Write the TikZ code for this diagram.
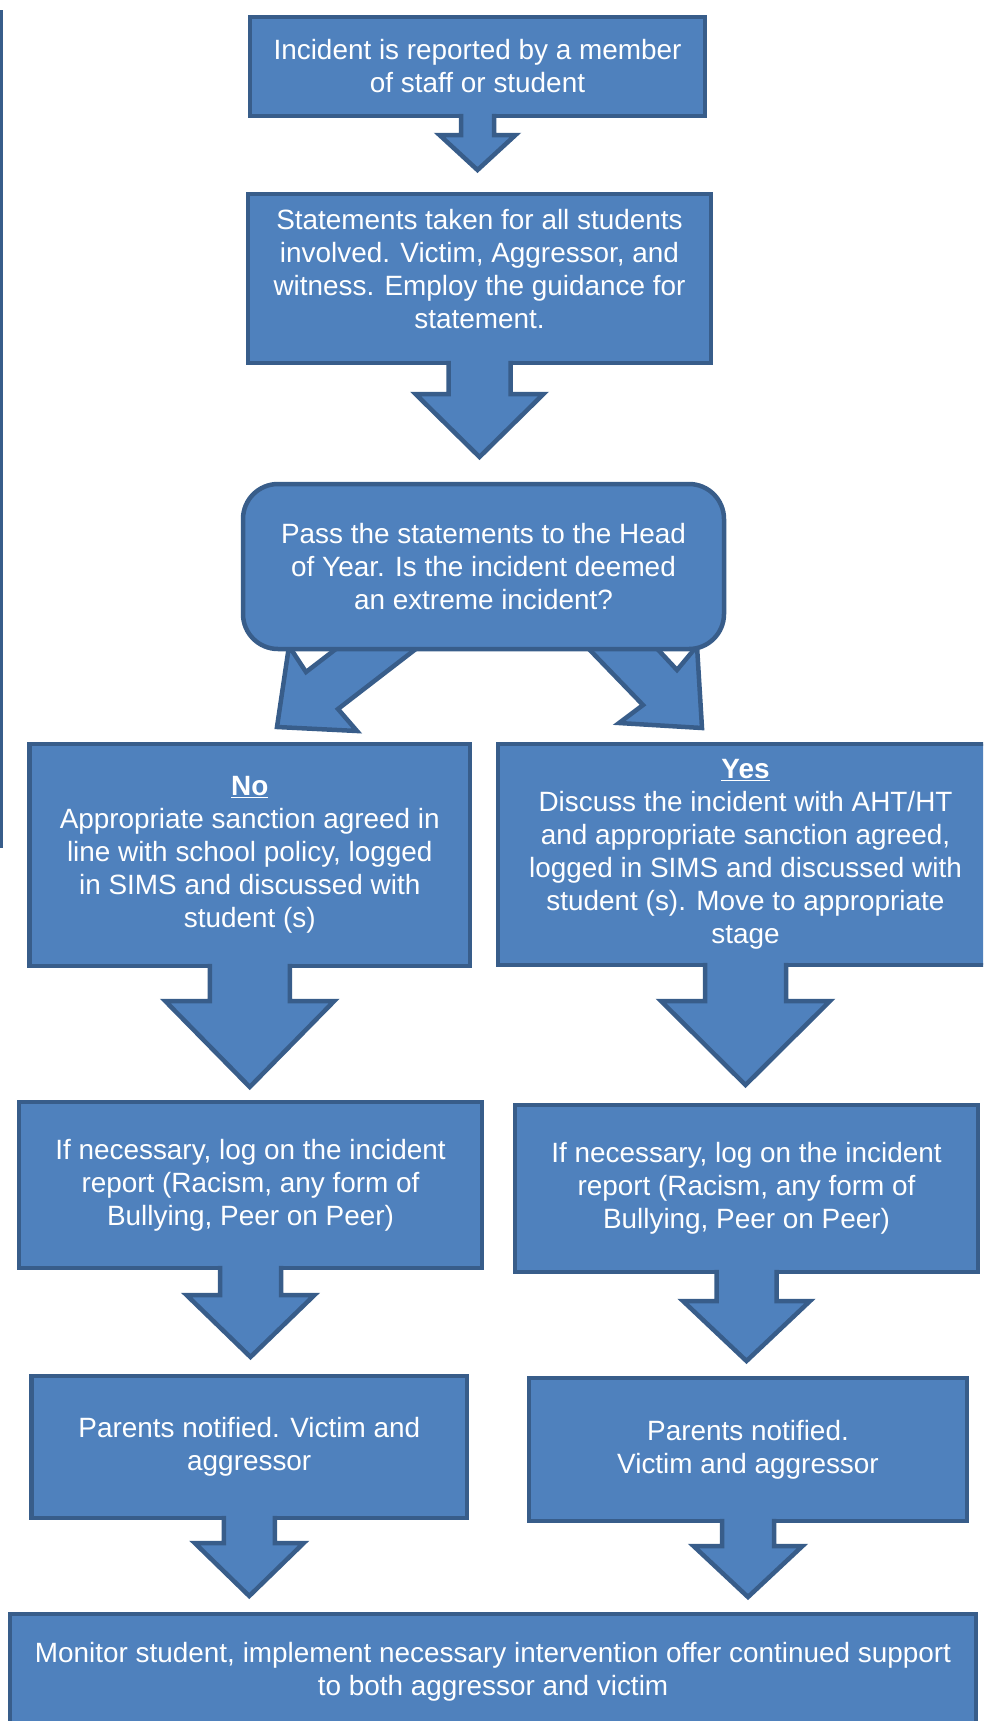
\documentclass[tikz,border=0pt]{standalone}
\usepackage{fontspec}
\setmainfont{Liberation Sans}
\usetikzlibrary{calc}
\definecolor{boxfill}{HTML}{4F81BD}
\definecolor{boxline}{HTML}{385D8A}
\newcommand{\blockarr}[5]{%
  \fill[boxfill] ($(#1.south)+(-#2,-2.5)$) -- ($(#1.south)+(-#2,#4)$) -- ($(#1.south)+(-#3,#4)$) -- ($(#1.south)+(0,#5)$) -- ($(#1.south)+(#3,#4)$) -- ($(#1.south)+(#2,#4)$) -- ($(#1.south)+(#2,-2.5)$) -- cycle;
  \draw[arrline] ($(#1.south)+(-#2,-2.2)$) -- ($(#1.south)+(-#2,#4)$) -- ($(#1.south)+(-#3,#4)$) -- ($(#1.south)+(0,#5)$) -- ($(#1.south)+(#3,#4)$) -- ($(#1.south)+(#2,#4)$) -- ($(#1.south)+(#2,-2.2)$);
}
\begin{document}
\begin{tikzpicture}[x=1pt,y=-1pt,
  box/.style={draw=boxline, fill=boxfill, line width=4.5pt, text=white, align=center,
    inner sep=0pt, outer sep=0pt, font=\fontsize{27.9}{33}\selectfont},
  arrline/.style={draw=boxline, line width=4.5pt, line join=miter},
  bent/.style={fill=boxfill, draw=boxline, line width=4.5pt, line join=miter}]
\useasboundingbox (0,0) rectangle (983,1721);
\clip (0,0) rectangle (983,1721);

% left margin line
\draw[boxline, line width=3pt] (1.5,10) -- (1.5,848);

% boxes
\node[box, minimum width=455pt, minimum height=99pt] (b1) at (477.5,66.5)
  {Incident is reported by a member\\of staff or student};
\node[box, minimum width=463pt, minimum height=169pt,
  label={[text=white, align=center, font=\fontsize{27.9}{33}\selectfont, yshift=9pt]center:{Statements taken for all students\\involved. Victim, Aggressor, and\\witness. Employ the guidance for\\statement.}}] (b2) at (479.5,278.5) {};

% bent arrows (behind the decision box)
\draw[bent] (277,727) -- (289,646) -- (306,672) -- (345,642) -- (421,645) -- (338,709) -- (357,731) -- cycle;
\draw[bent] (702,728) -- (697,646) -- (677,670) -- (650,641) -- (585,645) -- (643,705) -- (619,723) -- cycle;

\node[box, rounded corners=35pt, minimum width=481pt, minimum height=165pt] (b3) at (483.5,566.5)
  {Pass the statements to the Head\\of Year. Is the incident deemed\\an extreme incident?};

\node[box, minimum width=440.5pt, minimum height=222pt] (no) at (249.75,855)
  {\underline{\textbf{No}}\\Appropriate sanction agreed in\\line with school policy, logged\\in SIMS and discussed with\\student (s)};
\node[box, minimum width=495pt, minimum height=221pt] (yes) at (745.5,854.5)
  {\underline{\textbf{Yes}}\\Discuss the incident with AHT/HT\\and appropriate sanction agreed,\\logged in SIMS and discussed with\\student (s). Move to appropriate\\stage};

\node[box, minimum width=463pt, minimum height=166pt] (l3) at (250.5,1185)
  {If necessary, log on the incident\\report (Racism, any form of\\Bullying, Peer on Peer)};
\node[box, minimum width=463pt, minimum height=167pt] (r3) at (746.5,1188.5)
  {If necessary, log on the incident\\report (Racism, any form of\\Bullying, Peer on Peer)};

\node[box, minimum width=435.5pt, minimum height=142pt] (l4) at (249.25,1447)
  {Parents notified. Victim and\\aggressor};
\node[box, minimum width=438pt, minimum height=143pt] (r4) at (748,1449.5)
  {Parents notified.\\Victim and aggressor};

\node[box, minimum width=966pt, minimum height=116pt] (l5) at (493,1672)
  {Monitor student, implement necessary intervention offer continued support\\to both aggressor and victim};

% block arrows
\blockarr{b1}{16.5}{38}{19}{54}
\blockarr{b2}{31}{64}{31}{94}
\blockarr{no}{40}{84.5}{35}{121}
\blockarr{yes}{40.5}{84.5}{36}{120}
\blockarr{l3}{30.5}{64}{27}{89}
\blockarr{r3}{30}{63.5}{29}{89}
\blockarr{l4}{25.5}{54.5}{25}{78}
\blockarr{r4}{26}{54.5}{25}{76}
\end{tikzpicture}
\end{document}
